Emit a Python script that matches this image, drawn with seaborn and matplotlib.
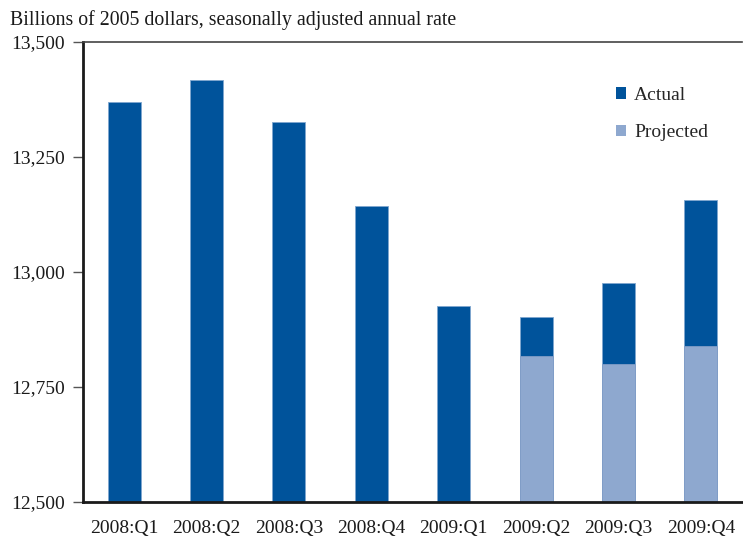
import matplotlib
matplotlib.use("Agg")
import matplotlib.pyplot as plt
import seaborn as sns
import pandas as pd
from matplotlib.patches import Patch
from matplotlib.ticker import FuncFormatter

# valores (miles de millones de dolares de 2005)
trimestres = ['2008:Q1', '2008:Q2', '2008:Q3', '2008:Q4', '2009:Q1', '2009:Q2', '2009:Q3', '2009:Q4']
real = [13370, 13418, 13327, 13143, 12925, 12902, 12975, 13157]
trimestres_proy = ['2009:Q2', '2009:Q3', '2009:Q4']
proyectado = [12817, 12800, 12840]

color_real = '#00539B'
color_proy = '#8EA8CF'

sns.set_theme(style='white')
plt.rcParams['font.family'] = ['Liberation Serif', 'DejaVu Serif']

df_real = pd.DataFrame({'trimestre': trimestres, 'valor': real})
df_proy = pd.DataFrame({'trimestre': trimestres_proy, 'valor': proyectado})

fig = plt.figure(figsize=(7.43, 5.43), dpi=100)
ax = fig.add_axes([0.1117, 0.0755, 0.887, 0.8472])

sns.barplot(data=df_real, x='trimestre', y='valor', order=trimestres, color=color_real,
            width=0.4, edgecolor='#7FA6CF', linewidth=0.6, saturation=1, ax=ax)
sns.barplot(data=df_proy, x='trimestre', y='valor', order=trimestres, color=color_proy,
            width=0.4, edgecolor='#7F9CC6', linewidth=0.6, saturation=1, ax=ax)

ax.set_xlim(-0.5, 7.5)
ax.set_ylim(12500, 13500)
ax.set_yticks([12500, 12750, 13000, 13250, 13500])
ax.yaxis.set_major_formatter(FuncFormatter(lambda v, p: f'{int(v):,}'))
ax.set_xlabel('')
ax.set_ylabel('')

ax.spines['right'].set_visible(False)
ax.spines['left'].set_color('#1a1a1a')
ax.spines['bottom'].set_color('#1a1a1a')
ax.spines['left'].set_linewidth(2)
ax.spines['bottom'].set_linewidth(2)
ax.spines['top'].set_color('#444444')
ax.spines['top'].set_linewidth(1.2)

ax.tick_params(axis='y', left=True, length=7, width=1, color='#555555', labelsize=14, pad=6)
ax.tick_params(axis='x', bottom=False, labelsize=14, pad=7)
for lbl in ax.get_xticklabels() + ax.get_yticklabels():
    lbl.set_color('#1a1a1a')

handles = [Patch(facecolor=color_real, edgecolor='none'), Patch(facecolor=color_proy, edgecolor='none')]
ax.legend(handles, ['Actual', 'Projected'], loc='upper right', bbox_to_anchor=(0.975, 0.94),
          frameon=False, fontsize=14, handlelength=0.55, handleheight=0.55,
          handletextpad=0.4, labelspacing=1.05)

fig.text(0.013, 0.963, 'Billions of 2005 dollars, seasonally adjusted annual rate',
         fontsize=14.3, color='#1a1a1a', va='center', ha='left')

fig.savefig('out.png', dpi=100)
